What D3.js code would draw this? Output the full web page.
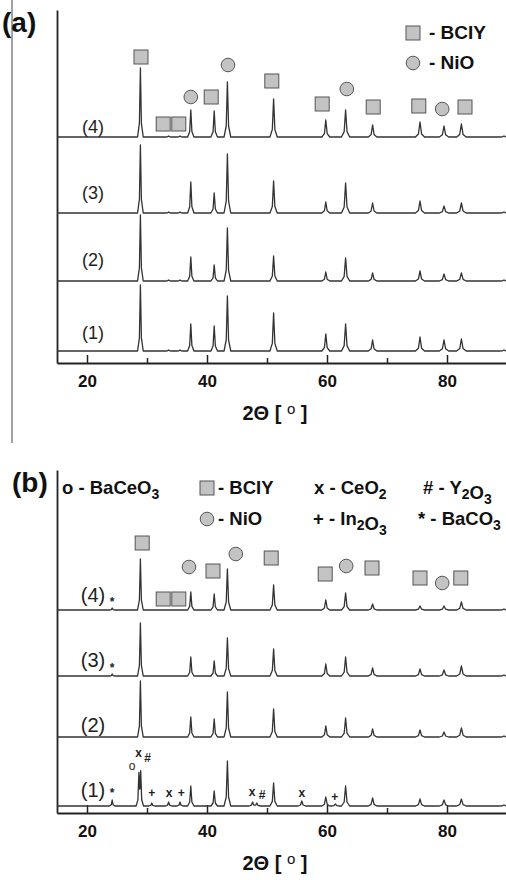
<!DOCTYPE html>
<html>
<head>
<meta charset="utf-8">
<script src="https://cdn.jsdelivr.net/npm/d3@7"></script>
<style>
  body { margin: 0; background: #fff; }
  svg { font-family: "Liberation Sans", Arial, sans-serif; }
</style>
</head>
<body>
<div id="chart"></div>
<script>
// DATA
// peak positions (2theta) and heights (a.u.) for panel (a)
const peaksA = [28.9, 33.6, 35.5, 37.3, 41.2, 43.4, 51.1, 59.8, 63.1, 67.6, 75.5, 79.5, 82.4, 89.5]
const heightsA = [
  [66, 1, 1, 27, 25, 55, 38, 17, 27, 11, 14, 11, 12, 1], // (1)
  [66, 1, 1, 24, 16, 53, 25, 9, 23, 8, 10, 7, 8, 1],     // (2)
  [68, 1, 1, 31, 20, 59, 32, 11, 30, 10, 12, 7, 10, 1],  // (3)
  [69, 1, 1, 27, 26, 55, 38, 17, 27, 12, 15, 11, 13, 1]  // (4)
]
// panel (b), samples (2)-(4)
const peaksB = [24.2, 28.9, 37.3, 41.2, 43.4, 51.1, 59.8, 63.1, 67.6, 75.5, 79.5, 82.4, 89.5]
const heightsB = [
  [0, 56, 20, 18, 45, 28, 11, 19, 8, 7, 5, 9, 1],   // (2)
  [2, 53, 19, 15, 38, 27, 12, 19, 8, 7, 6, 10, 1],  // (3)
  [2, 51, 18, 16, 41, 25, 10, 17, 6, 4, 4, 8, 1]    // (4)
]
// panel (b), sample (1)
const peaksB1 = [24.2, 28.65, 28.95, 30.8, 33.6, 35.5, 37.3, 41.2, 43.4, 47.6, 48.3, 51.1, 55.8, 59.8, 61.4, 63.1, 67.6, 75.5, 79.5, 82.4, 89.5]
const heightsB1 = [6, 30, 32, 3, 4, 4, 20, 15, 45, 4, 3, 23, 5, 9, 2, 20, 8, 7, 6, 7, 1]

const sampleNames = ["(1)", "(2)", "(3)", "(4)"]

// phase markers above pattern (4): [2theta, intensity, phase]
const markersA = [
  [29.0, 306, "BCIY"], [32.7, 239, "BCIY"], [35.3, 239, "BCIY"], [37.3, 266, "NiO"],
  [40.7, 266, "BCIY"], [43.5, 298, "NiO"], [50.8, 282, "BCIY"], [59.2, 259, "BCIY"],
  [63.3, 274, "NiO"], [67.7, 256, "BCIY"], [75.3, 257, "BCIY"], [79.2, 254, "NiO"],
  [83.0, 256, "BCIY"]
]
const markersB = [
  [29.2, 270, "BCIY"], [32.7, 214, "BCIY"], [35.3, 214, "BCIY"], [37.0, 246, "NiO"],
  [41.0, 242, "BCIY"], [44.8, 259, "NiO"], [50.7, 255, "BCIY"], [59.7, 239, "BCIY"],
  [63.2, 247, "NiO"], [67.5, 245, "BCIY"], [75.5, 235, "BCIY"], [79.2, 230, "NiO"],
  [82.3, 235, "BCIY"]
]
// small symbol labels in panel (b): [2theta, intensity, symbol]
const symbolsB = [
  [24.2, 211, "*"], [24.2, 145, "*"],
  [27.5, 47, "o"], [28.6, 60, "x"], [30.1, 55, "#"], [24.2, 20, "*"], [30.8, 20, "+"],
  [33.7, 20, "x"], [35.7, 20, "+"], [47.5, 21, "x"], [49.2, 18, "#"], [55.8, 20, "x"],
  [61.3, 16, "+"]
]
const majorTicks = [20, 40, 60, 80]
const minorTicks = [30, 50, 70]

// LAYOUT
const W = 506, H = 880
const offsetsA = [12, 82, 150, 226]
const offsetsB = [7, 76, 137, 203]
const labelLiftA = [18, 21, 20, 10]
const labelLiftB = [16, 12, 16, 15]
const markFill = "#c3c3c3", markStroke = "#555"

const svg = d3.select("#chart").append("svg")
    .attr("width", W)
    .attr("height", H)

const x = d3.scaleLinear().domain([15, 90]).range([57, 507])
const yA = d3.scaleLinear().domain([0, 353]).range([363, 10])
const yB = d3.scaleLinear().domain([0, 343]).range([813, 470])

// peak shape: sharp tip with narrow skirt
const halfWidth = p => 0.42 + (p - 20) * 0.006
function shape(v, pk) {
    const t = Math.abs(v - pk.p) / pk.w
    if (t >= 1) return 0
    if (t <= 0.35) return pk.h * (1 - t / 0.35 * 0.8)
    return pk.h * 0.2 * (1 - t) / 0.65
}
function profile(pos, hts) {
    const pks = pos.map((p, i) => ({p: p, h: hts[i], w: halfWidth(p)})).filter(d => d.h > 0)
    const xs = new Set([15, 90])
    pks.forEach(d => [-1, -0.35, 0, 0.35, 1].forEach(k => xs.add(d.p + k * d.w)))
    return [...xs].filter(v => v >= 15 && v <= 90).sort((a, b) => a - b)
        .map(v => [v, d3.sum(pks, d => shape(v, d))])
}

// separator line on the left
svg.append("line")
    .attr("x1", 12).attr("x2", 12).attr("y1", 0).attr("y2", 443)
    .attr("stroke", "#444").attr("stroke-width", 1)

function drawPanel(y, patterns, offsets, lifts, labelSize, markers, letter, letterX, letterY) {
    const g = svg.append("g")

    // axes
    const bottom = y(0)
    g.append("g")
        .attr("transform", `translate(0, ${bottom})`)
        .call(d3.axisBottom(x).tickValues(majorTicks).tickSizeInner(-8).tickSizeOuter(0).tickPadding(12))
        .call(a => a.select(".domain").attr("stroke-width", 2).attr("stroke", "#222"))
        .call(a => a.selectAll(".tick line").attr("stroke-width", 1.5).attr("stroke", "#222"))
        .call(a => a.selectAll("text").attr("font-size", 17).attr("font-weight", "bold").attr("fill", "#111")
            .attr("font-family", "'Liberation Sans', Arial, sans-serif"))
    g.append("g")
        .attr("transform", `translate(0, ${bottom})`)
        .call(d3.axisBottom(x).tickValues(minorTicks).tickSizeInner(-5).tickSizeOuter(0).tickFormat(""))
        .call(a => a.select(".domain").remove())
        .call(a => a.selectAll(".tick line").attr("stroke-width", 1.5).attr("stroke", "#222"))
    g.append("g")
        .attr("transform", `translate(${x(15)}, 0)`)
        .call(d3.axisLeft(y).tickValues([]).tickSizeOuter(0))
        .call(a => a.select(".domain").attr("stroke-width", 1.8).attr("stroke", "#222"))

    // axis title
    const t = g.append("text")
        .attr("x", 275).attr("y", bottom + 57)
        .attr("text-anchor", "middle")
        .attr("font-size", 20).attr("font-weight", "bold").attr("fill", "#111")
    t.append("tspan").text("2Θ [ ")
    t.append("tspan").attr("dy", -6).attr("font-size", 15).attr("font-weight", "normal").text("o")
    t.append("tspan").attr("dy", 6).text(" ]")

    // patterns
    const line = d3.line().x(d => x(d[0]))
    patterns.forEach((pr, i) => {
        g.append("path")
            .datum(pr)
            .attr("d", line.y(d => y(d[1] + offsets[i])))
            .attr("fill", "none")
            .attr("stroke", "#333")
            .attr("stroke-width", 1.3)
            .attr("stroke-linejoin", "round")
        g.append("text")
            .attr("x", x(21)).attr("y", y(offsets[i] + lifts[i]))
            .attr("text-anchor", "middle").attr("dominant-baseline", "central")
            .attr("font-size", labelSize).attr("fill", "#222")
            .text(sampleNames[i])
    })

    // phase markers
    g.selectAll(".sq").data(markers.filter(d => d[2] === "BCIY")).join("rect")
        .attr("x", d => x(d[0]) - 7).attr("y", d => y(d[1]) - 7)
        .attr("width", 14).attr("height", 14)
        .attr("fill", markFill).attr("stroke", markStroke).attr("stroke-width", 1)
    g.selectAll(".ci").data(markers.filter(d => d[2] === "NiO")).join("circle")
        .attr("cx", d => x(d[0])).attr("cy", d => y(d[1]))
        .attr("r", 6.8)
        .attr("fill", markFill).attr("stroke", markStroke).attr("stroke-width", 1)

    // panel letter
    svg.append("text")
        .attr("x", letterX).attr("y", letterY)
        .attr("font-size", 28).attr("font-weight", "bold").attr("fill", "#111")
        .text(letter)
    return g
}

// PANEL (a)
const patternsA = heightsA.map(h => profile(peaksA, h))
const gA = drawPanel(yA, patternsA, offsetsA, labelLiftA, 18, markersA, "(a)", 2, 32)
// legend (a)
gA.append("rect").attr("x", 406).attr("y", 26).attr("width", 14).attr("height", 14)
    .attr("fill", markFill).attr("stroke", markStroke)
gA.append("text").attr("x", 429).attr("y", 39).attr("font-size", 19).attr("font-weight", "bold")
    .attr("fill", "#111").text("- BCIY")
gA.append("circle").attr("cx", 413).attr("cy", 63).attr("r", 6.8)
    .attr("fill", markFill).attr("stroke", markStroke)
gA.append("text").attr("x", 429).attr("y", 69).attr("font-size", 19).attr("font-weight", "bold")
    .attr("fill", "#111").text("- NiO")

// PANEL (b)
const patternsB = [profile(peaksB1, heightsB1)].concat(heightsB.map(h => profile(peaksB, h)))
const gB = drawPanel(yB, patternsB, offsetsB, labelLiftB, 20, markersB, "(b)", 12, 492)

gB.selectAll(".sym").data(symbolsB).join("text")
    .attr("x", d => x(d[0])).attr("y", d => yB(d[1]))
    .attr("text-anchor", "middle").attr("dominant-baseline", "central")
    .attr("font-size", 12)
    .attr("font-weight", d => d[2] === "o" ? "normal" : "bold")
    .attr("fill", "#222")
    .text(d => d[2])

// legend (b): text with subscripts
function formula(g, xPos, yPos, parts) {
    const t = g.append("text").attr("x", xPos).attr("y", yPos)
        .attr("font-size", 18.5).attr("font-weight", "bold").attr("fill", "#111")
    parts.forEach(p => {
        if (typeof p === "string") t.append("tspan").text(p)
        else {
            t.append("tspan").attr("dy", 5).attr("font-size", 14).text(p[0])
            t.append("tspan").attr("dy", -5).text("")
        }
    })
    return t
}
formula(gB, 62, 494, ["o - BaCeO", ["3"]])
gB.append("rect").attr("x", 200).attr("y", 481).attr("width", 14).attr("height", 14)
    .attr("fill", markFill).attr("stroke", markStroke)
formula(gB, 218, 494, ["- BCIY"])
formula(gB, 314, 494, ["x - CeO", ["2"]])
formula(gB, 423, 494, ["# - Y", ["2"], "O", ["3"]])
gB.append("circle").attr("cx", 207).attr("cy", 519).attr("r", 6.8)
    .attr("fill", markFill).attr("stroke", markStroke)
formula(gB, 218, 525, ["- NiO"])
formula(gB, 313, 525, ["+ - In", ["2"], "O", ["3"]])
formula(gB, 418, 525, ["* - BaCO", ["3"]])
</script>
</body>
</html>
